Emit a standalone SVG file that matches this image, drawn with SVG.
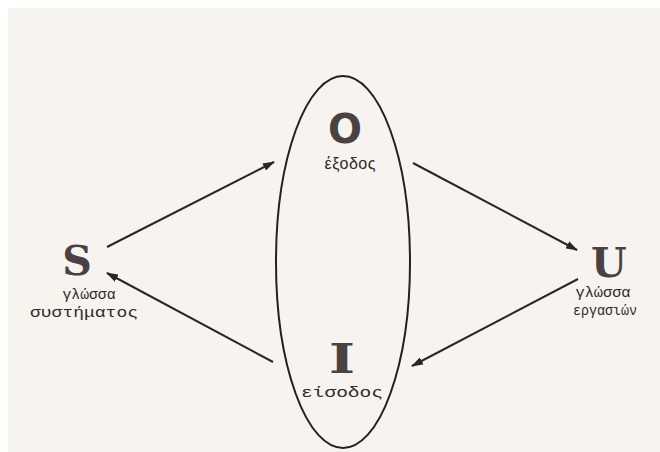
<svg xmlns="http://www.w3.org/2000/svg" width="660" height="452" viewBox="0 0 660 452">
<defs>
<marker id="ah" viewBox="0 0 12 8" refX="11" refY="4" markerWidth="12" markerHeight="8" markerUnits="userSpaceOnUse" orient="auto">
<path d="M0,0 L12,4 L0,8 Z" fill="#2a2626"/>
</marker>
<style>
.big{font-family:"DejaVu Serif","Liberation Serif",serif;font-weight:bold;font-size:41px;fill:#4a4242;text-anchor:middle}
.bigs{font-family:"DejaVu Sans","Liberation Sans",sans-serif;font-weight:bold;font-size:40px;fill:#4a4242;text-anchor:middle}
.lbl{font-family:"Liberation Mono","DejaVu Sans Mono",monospace;font-size:15px;fill:#2e2a2a;text-anchor:middle}
.sans{font-family:"Liberation Sans","DejaVu Sans",sans-serif;font-size:16px;fill:#2e2a2a;text-anchor:middle}
.conn{stroke:#2a2626;stroke-width:2;fill:none;marker-end:url(#ah)}
</style>
</defs>
<rect x="0" y="0" width="660" height="452" fill="#ffffff"/>
<rect x="8" y="8" width="652" height="444" fill="#f7f3ef"/>
<g id="system">
<ellipse cx="343" cy="262" rx="67" ry="186" fill="none" stroke="#222" stroke-width="2"/>
</g>
<g id="node-O">
<text class="bigs" x="345" y="143">O</text>
<text class="sans" x="350" y="169" textLength="51" lengthAdjust="spacing">έξοδος</text>
</g>
<g id="node-S">
<text class="big" x="77" y="275">S</text>
<text class="lbl" x="89" y="299" textLength="53" lengthAdjust="spacingAndGlyphs">γλώσσα</text>
<text class="lbl" x="84" y="317" textLength="108" lengthAdjust="spacingAndGlyphs">συστήματος</text>
</g>
<g id="node-U">
<text class="big" x="609" y="277">U</text>
<text class="lbl" x="603" y="297" textLength="55" lengthAdjust="spacingAndGlyphs">γλώσσα</text>
<text class="lbl" x="605" y="315" textLength="64" lengthAdjust="spacingAndGlyphs">εργασιών</text>
</g>
<g id="node-I">
<text class="big" x="342" y="373" textLength="26" lengthAdjust="spacingAndGlyphs">I</text>
<text class="lbl" x="342" y="397" textLength="82" lengthAdjust="spacingAndGlyphs">είσοδος</text>
</g>
<g id="connectors">
<line class="conn" x1="107" y1="247" x2="274" y2="162"/>
<line class="conn" x1="413" y1="163" x2="577" y2="250"/>
<line class="conn" x1="273" y1="362" x2="107" y2="273"/>
<line class="conn" x1="578" y1="279" x2="412" y2="366"/>
</g>
</svg>
